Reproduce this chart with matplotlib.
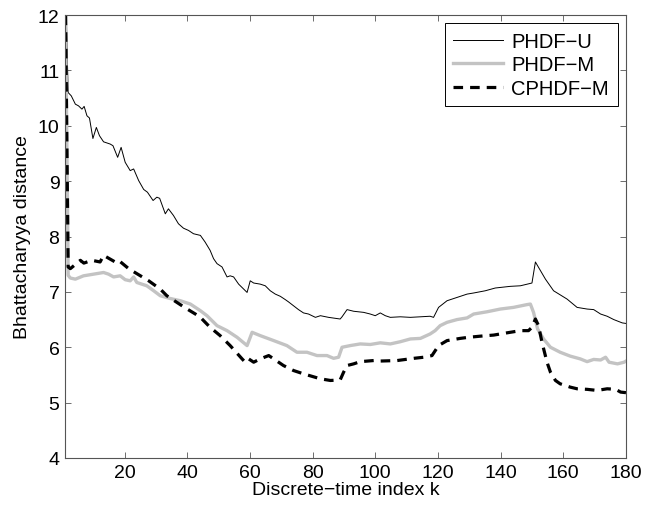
import matplotlib
matplotlib.use('Agg')
from matplotlib import pyplot as plt

plt.rcParams['font.family'] = ['Liberation Sans', 'DejaVu Sans']

# PHDF-U (thin black line)
u_k = [1, 2, 3, 4.3, 5.3, 6.4, 7.1, 8.0, 8.8, 9.9, 11.0, 12.0, 13.3, 15.4, 16.3,
       17.8, 18.9, 20.2, 21.8, 22.9, 24.5, 26.1, 27.3, 29.1, 30.3, 31.2, 33.0,
       34.0, 35.6, 37.2, 38.8, 40.4, 42.0, 44.2, 45.7, 47.3, 48.4, 49.5, 51.1,
       52.7, 53.7, 54.8, 56.4, 59.1, 60.1, 61.2, 63.3, 64.9, 66.5, 68.1, 69.7,
       71.3, 72.3, 73.9, 75.5, 77.1, 78.7, 80.9, 82.5, 85.1, 88.8, 89.4, 91.0,
       93.1, 96.3, 98.4, 100.0, 101.6, 103.2, 104.8, 108.0, 111.2, 114.4, 117.5,
       118.6, 120.2, 122.9, 126.1, 129.3, 131.4, 135.1, 138.3, 143.1, 146.3,
       150.0, 151.1, 154.3, 156.9, 161.2, 164.4, 167.6, 169.7, 171.9, 174.0,
       176.1, 178.8, 180]
u_val = [13.0, 10.6, 10.54, 10.39, 10.36, 10.30, 10.35, 10.18, 10.14, 9.77, 9.97,
         9.82, 9.71, 9.67, 9.64, 9.43, 9.61, 9.34, 9.19, 9.22, 9.01, 8.85, 8.80,
         8.65, 8.71, 8.69, 8.41, 8.50, 8.38, 8.23, 8.15, 8.11, 8.05, 8.02, 7.90,
         7.75, 7.60, 7.51, 7.45, 7.27, 7.29, 7.27, 7.14, 6.99, 7.20, 7.16, 7.14,
         7.11, 7.02, 6.96, 6.92, 6.86, 6.82, 6.75, 6.68, 6.62, 6.60, 6.54, 6.57,
         6.54, 6.51, 6.55, 6.68, 6.65, 6.63, 6.60, 6.57, 6.62, 6.57, 6.54, 6.55,
         6.54, 6.55, 6.56, 6.54, 6.72, 6.84, 6.90, 6.96, 6.98, 7.02, 7.07, 7.10,
         7.11, 7.16, 7.54, 7.23, 7.02, 6.87, 6.72, 6.69, 6.68, 6.60, 6.56, 6.50,
         6.44, 6.43]

# PHDF-M (thick grey line)
m_k = [1, 2, 2.7, 4.3, 6.9, 10.1, 13.3, 14.9, 16.5, 18.6, 20.2, 21.8, 22.9, 23.9,
       27.1, 29.3, 31.4, 34.6, 37.8, 41.0, 44.2, 46.3, 49.5, 52.7, 55.9, 59.1,
       60.7, 63.3, 67.6, 71.8, 75.0, 78.2, 81.4, 84.6, 86.7, 88.3, 89.4, 92.0,
       95.2, 98.4, 101.6, 104.8, 108.0, 111.2, 114.4, 117.5, 119.1, 120.7, 122.9,
       126.1, 129.3, 131.4, 135.6, 139.9, 144.1, 148.4, 149.5, 150.5, 151.8,
       153.7, 155.9, 159.0, 162.2, 165.4, 167.6, 169.7, 171.9, 173.5, 174.6,
       177.3, 179.4, 180]
m_val = [13.0, 7.3, 7.25, 7.23, 7.29, 7.32, 7.35, 7.32, 7.27, 7.29, 7.22, 7.20,
         7.27, 7.17, 7.11, 7.02, 6.93, 6.88, 6.84, 6.78, 6.66, 6.57, 6.39, 6.30,
         6.18, 6.03, 6.27, 6.21, 6.12, 6.03, 5.91, 5.91, 5.85, 5.85, 5.80, 5.82,
         6.00, 6.03, 6.06, 6.05, 6.08, 6.06, 6.10, 6.15, 6.16, 6.24, 6.30, 6.39,
         6.45, 6.50, 6.53, 6.60, 6.64, 6.69, 6.72, 6.77, 6.78, 6.63, 6.33, 6.15,
         6.00, 5.91, 5.84, 5.79, 5.74, 5.78, 5.77, 5.82, 5.73, 5.70, 5.73, 5.75]

# CPHDF-M (thick dashed line)
c_k = [1, 2, 2.7, 5.9, 7.0, 9.6, 12.2, 13.3, 17.0, 18.1, 21.3, 23.9, 27.7, 31.4,
       33.5, 36.7, 39.4, 42.6, 44.2, 47.3, 50.5, 53.7, 57.5, 58.5, 59.6, 61.2,
       63.3, 66.0, 67.6, 70.7, 73.9, 77.1, 82.5, 85.7, 88.8, 89.9, 91.0, 93.1,
       95.2, 99.5, 101.1, 107.0, 112.3, 115.5, 118.1, 120.2, 122.9, 127.1, 129.8,
       133.5, 137.8, 142.0, 146.3, 148.9, 150.0, 151.1, 152.1, 153.2, 154.8,
       155.9, 157.5, 159.0, 162.2, 164.4, 167.6, 170.8, 174.0, 176.7, 178.3, 180]
c_val = [13.0, 7.45, 7.42, 7.57, 7.52, 7.57, 7.54, 7.66, 7.54, 7.57, 7.42, 7.33,
         7.20, 7.05, 6.93, 6.81, 6.71, 6.60, 6.54, 6.36, 6.21, 6.03, 5.79, 5.73,
         5.79, 5.73, 5.79, 5.85, 5.79, 5.67, 5.58, 5.52, 5.43, 5.40, 5.41, 5.55,
         5.67, 5.70, 5.74, 5.76, 5.75, 5.76, 5.80, 5.82, 5.85, 6.03, 6.12, 6.16,
         6.18, 6.20, 6.22, 6.26, 6.30, 6.30, 6.36, 6.51, 6.39, 6.09, 5.73, 5.55,
         5.40, 5.34, 5.28, 5.25, 5.24, 5.22, 5.25, 5.24, 5.19, 5.18]

fig = plt.figure(figsize=(6.45, 5.10), dpi=100)
ax = fig.add_axes([0.1008, 0.1, 0.8697, 0.8686])

ax.plot(u_k, u_val, color='black', linewidth=0.7, label='PHDF\u2212U')
ax.plot(m_k, m_val, color='#c3c3c3', linewidth=2.4, label='PHDF\u2212M')
ax.plot(c_k, c_val, color='black', linewidth=2.3, linestyle=(0, (3, 2.2)),
        label='CPHDF\u2212M')

ax.set_xlim(1, 180)
ax.set_ylim(4, 12)
ax.set_xticks([20, 40, 60, 80, 100, 120, 140, 160, 180])
ax.set_yticks([4, 5, 6, 7, 8, 9, 10, 11, 12])
ax.tick_params(direction='in', top=True, right=True, length=4, width=0.6,
               labelsize=14, color='#555555', pad=4)
for s in ax.spines.values():
    s.set_linewidth(0.8)
    s.set_color('#555555')

ax.set_xlabel('Discrete\u2212time index k', fontsize=14, labelpad=0)
ax.set_ylabel('Bhattacharyya distance', fontsize=14, labelpad=5)

leg = ax.legend(loc='upper right', fontsize=14.5, fancybox=False, framealpha=1,
                edgecolor='black', borderaxespad=0.42, handlelength=2.5,
                handletextpad=0.4, labelspacing=0.22, borderpad=0.42)
leg.get_frame().set_linewidth(0.7)

fig.savefig('out.png', dpi=100)
